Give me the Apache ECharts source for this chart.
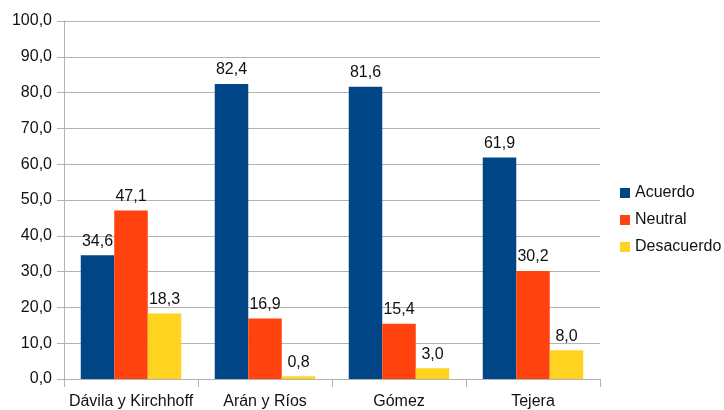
<!DOCTYPE html>
<html>
<head>
<meta charset="utf-8">
<script src="https://cdn.jsdelivr.net/npm/echarts@6/dist/echarts.min.js"></script>
<style>
html,body{margin:0;padding:0;background:#fff;}
#chart{width:724px;height:410px;}
</style>
</head>
<body>
<div id="chart"></div>
<script>
// Grupos de autores y porcentajes por tipo de respuesta
const categories = ['Dávila y Kirchhoff', 'Arán y Ríos', 'Gómez', 'Tejera'];
const acuerdo = [34.6, 82.4, 81.6, 61.9];
const neutral = [47.1, 16.9, 15.4, 30.2];
const desacuerdo = [18.3, 0.8, 3.0, 8.0];
const seriesNames = ['Acuerdo', 'Neutral', 'Desacuerdo'];
const colors = ['#004586', '#ff420e', '#ffd320'];

const fmt = v => v.toFixed(1).replace('.', ',');
const font = 'Liberation Sans, Arial, sans-serif';
const textColor = '#111';

const chart = echarts.init(document.getElementById('chart'), null, {renderer: 'canvas'});

function makeSeries(name, data, color) {
  return {
    name: name,
    type: 'bar',
    data: data,
    itemStyle: {color: color},
    barGap: '0%',
    barCategoryGap: '25%',
    label: {
      show: true,
      position: 'top',
      distance: 6,
      formatter: p => fmt(p.value),
      color: textColor,
      fontSize: 16,
      fontFamily: font
    },
    emphasis: {disabled: true}
  };
}

chart.setOption({
  animation: false,
  color: colors,
  grid: {left: 64, top: 21, width: 536, height: 361, containLabel: false},
  legend: {
    orient: 'vertical',
    left: 615,
    top: 180,
    itemWidth: 10,
    itemHeight: 10,
    itemGap: 11,
    icon: 'rect',
    textStyle: {fontSize: 16, fontFamily: font, color: textColor},
    data: seriesNames
  },
  xAxis: {
    type: 'category',
    data: categories,
    axisLine: {show: true, lineStyle: {color: '#b3b3b3'}},
    axisTick: {show: true, length: 8, lineStyle: {color: '#b3b3b3'}},
    axisLabel: {fontSize: 16, fontFamily: font, color: textColor, margin: 15, interval: 0},
    splitLine: {show: false}
  },
  yAxis: {
    type: 'value',
    min: 0,
    max: 100,
    interval: 10,
    axisLine: {show: true, lineStyle: {color: '#b3b3b3'}},
    axisTick: {show: true, length: 7, lineStyle: {color: '#b3b3b3'}},
    axisLabel: {fontSize: 16, fontFamily: font, color: textColor, margin: 12, formatter: v => fmt(v)},
    splitLine: {show: true, lineStyle: {color: '#b3b3b3'}}
  },
  series: [
    makeSeries(seriesNames[0], acuerdo, colors[0]),
    makeSeries(seriesNames[1], neutral, colors[1]),
    makeSeries(seriesNames[2], desacuerdo, colors[2])
  ]
});
</script>
</body>
</html>
